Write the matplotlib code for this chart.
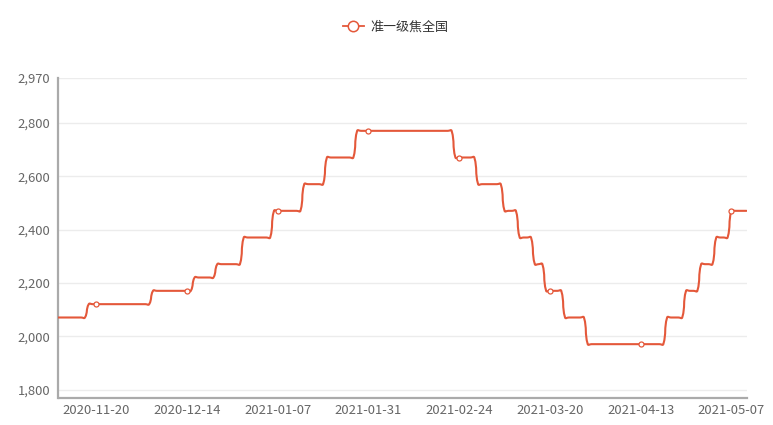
import matplotlib
matplotlib.use("Agg")
import matplotlib.pyplot as plt
import matplotlib.dates as mdates
import numpy as np
import pandas as pd
from matplotlib.path import Path
from matplotlib.patches import PathPatch
from matplotlib.lines import Line2D
from matplotlib.ticker import FuncFormatter

plt.rcParams["font.family"] = ["Noto Sans CJK SC", "DejaVu Sans"]

SERIES_NAME = "准一级焦全国"
START_DATE = "2020-11-10"
END_DATE = "2021-05-11"

# price level changes: date from which the new level applies
change_dates = [
    "2020-11-10", "2020-11-18", "2020-12-05", "2020-12-16", "2020-12-22",
    "2020-12-29", "2021-01-06", "2021-01-14", "2021-01-20", "2021-01-28",
    "2021-02-23", "2021-03-01", "2021-03-08", "2021-03-12", "2021-03-16",
    "2021-03-19", "2021-03-24", "2021-03-30", "2021-04-20", "2021-04-25",
    "2021-04-29", "2021-05-03", "2021-05-07",
]
change_levels = [
    2070, 2120, 2170, 2220, 2270,
    2370, 2470, 2570, 2670, 2770,
    2670, 2570, 2470, 2370, 2270,
    2170, 2070, 1970, 2070, 2170,
    2270, 2370, 2470,
]

tick_dates = ["2020-11-20", "2020-12-14", "2021-01-07", "2021-01-31",
              "2021-02-24", "2021-03-20", "2021-04-13", "2021-05-07"]
y_ticks = [1800, 2000, 2200, 2400, 2600, 2800, 2970]
Y_MIN, Y_MAX = 1770, 2970

LINE_COLOR = "#e4583a"

# daily series built from the level table
days = pd.date_range(START_DATE, END_DATE, freq="D")
levels = pd.Series(change_levels, index=pd.to_datetime(change_dates))
daily = levels.reindex(days).ffill()

W, H = 773, 425
fig = plt.figure(figsize=(W / 100, H / 100), dpi=100)
left, right, top, bottom = 58.5, 746.5, 77.5, 397.5
ax = fig.add_axes([left / W, 1 - bottom / H, (right - left) / W, (bottom - top) / H])

x_num = mdates.date2num(daily.index.to_pydatetime())
ax.set_xlim(x_num[0], x_num[-1])
ax.set_ylim(Y_MIN, Y_MAX)

# echarts-like smooth curve (smooth=0.5), computed in pixel space
pts = ax.transData.transform(np.column_stack([x_num, daily.values]))
smooth = 0.5
verts = [pts[0]]
codes = [Path.MOVETO]
cp0 = pts[0]
n = len(pts)
for i in range(1, n):
    p = pts[i]
    prev = pts[i - 1]
    nxt = pts[i + 1] if i + 1 < n else p
    v = nxt - prev
    l0 = np.hypot(*(p - prev))
    l1 = np.hypot(*(nxt - p))
    ratio = l1 / (l0 + l1) if (l0 + l1) > 0 else 0.5
    cp1 = p - v * smooth * (1 - ratio)
    verts += [cp0, cp1, p]
    codes += [Path.CURVE4] * 3
    cp0 = p + v * smooth * ratio
verts = ax.transData.inverted().transform(np.array(verts))
ax.add_patch(PathPatch(Path(verts, codes), fill=False, edgecolor=LINE_COLOR,
                       linewidth=1.5, capstyle="round", joinstyle="round", zorder=3))

# symbols shown at the labelled dates
mk = pd.to_datetime(tick_dates)
ax.plot(mdates.date2num(mk.to_pydatetime()), daily.reindex(mk).values,
        linestyle="none", marker="o", markersize=3.6, markerfacecolor="white",
        markeredgecolor=LINE_COLOR, markeredgewidth=0.9, zorder=4)

ax.set_yticks(y_ticks)
ax.yaxis.set_major_formatter(FuncFormatter(lambda v, _: f"{v:,.0f}"))
ax.set_xticks(mdates.date2num(mk.to_pydatetime()))
ax.set_xticklabels(tick_dates)
ax.tick_params(axis="both", length=0, labelsize=9.4, colors="#666666")
ax.tick_params(axis="y", pad=6)
ax.tick_params(axis="x", pad=5)
ax.grid(axis="y", color="#ececec", linewidth=1)
ax.set_axisbelow(True)

for side in ["top", "right"]:
    ax.spines[side].set_visible(False)
for side in ["left", "bottom"]:
    ax.spines[side].set_color("#aaaaaa")
    ax.spines[side].set_linewidth(1.6)

handle = Line2D([], [], color=LINE_COLOR, linewidth=1.3, marker="o", markersize=7.5,
                markerfacecolor="white", markeredgecolor=LINE_COLOR, markeredgewidth=1.1)
fig.legend([handle], [SERIES_NAME], loc="center", bbox_to_anchor=(0.5 + 9 / W, 1 - 27 / H),
           frameon=False, fontsize=9.4, handlelength=1.6, handletextpad=0.5,
           labelcolor="#333333")

fig.savefig("out.png", dpi=100)
